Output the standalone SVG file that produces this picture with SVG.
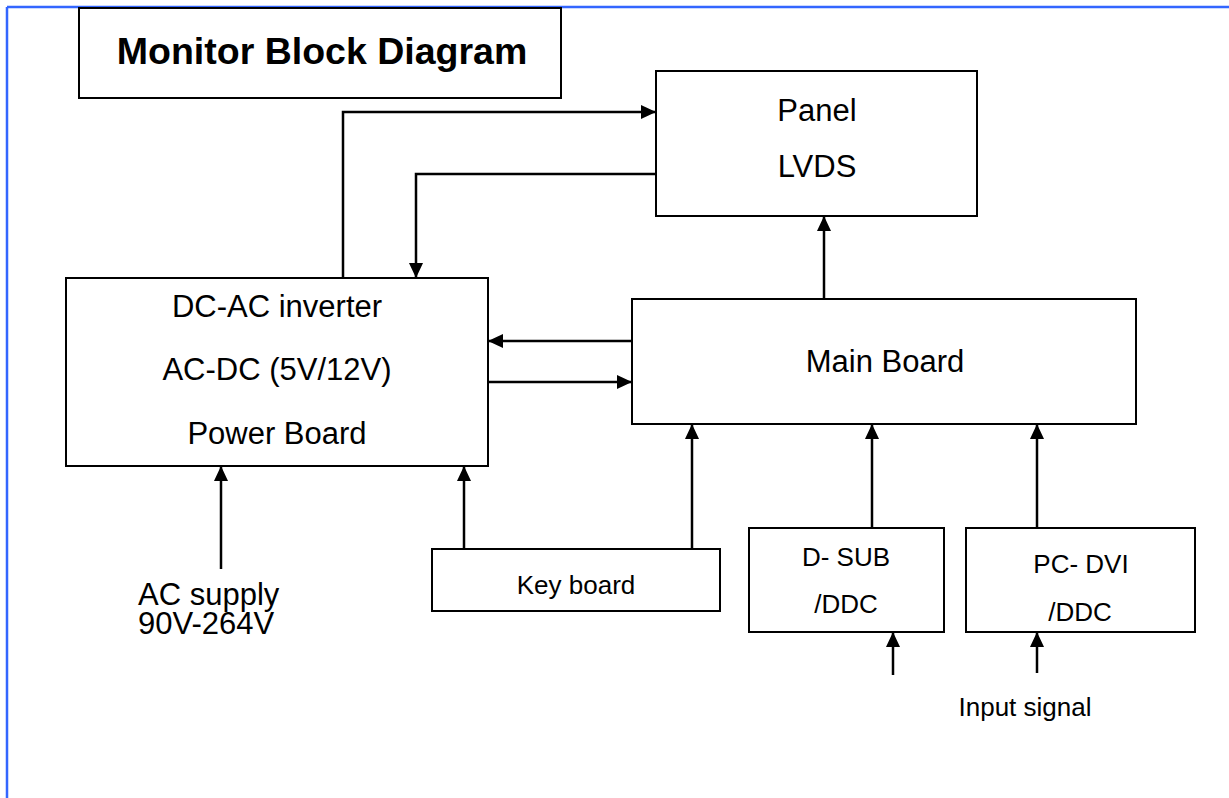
<svg xmlns="http://www.w3.org/2000/svg" width="1229" height="798" viewBox="0 0 1229 798">
<style>
.box{fill:#fff;stroke:#000;stroke-width:2}
.con{fill:none;stroke:#000;stroke-width:2.5}
.big{font-family:"Liberation Sans",Arial,sans-serif;font-size:31px;fill:#000;text-anchor:middle}
.sm{font-family:"Liberation Sans",Arial,sans-serif;font-size:26px;fill:#000;text-anchor:middle}
.title{font-family:"Liberation Sans",Arial,sans-serif;font-size:37.5px;font-weight:bold;fill:#000;text-anchor:middle}
</style>
<defs>
<marker id="arr" markerUnits="userSpaceOnUse" markerWidth="16" markerHeight="14" refX="15" refY="7" orient="auto">
<path d="M0,0 L15,7 L0,14 z" fill="#000"/>
</marker>
</defs>
<rect x="0" y="0" width="1229" height="798" fill="#fff"/>
<g id="frame" fill="none" stroke="#3366FF" stroke-width="2.5">
<line x1="7" y1="7" x2="1229" y2="7"/>
<line x1="7" y1="7" x2="7" y2="798"/>
</g>
<g id="title">
<rect class="box" x="79" y="8" width="482" height="90"/>
<text class="title" x="322" y="64">Monitor Block Diagram</text>
</g>
<g id="panel">
<rect class="box" x="656" y="71" width="321" height="145"/>
<text class="big" x="817" y="121">Panel</text>
<text class="big" x="817" y="177">LVDS</text>
</g>
<g id="power">
<rect class="box" x="66" y="278" width="422" height="188"/>
<text class="big" x="277" y="317">DC-AC inverter</text>
<text class="big" x="277" y="380">AC-DC (5V/12V)</text>
<text class="big" x="277" y="444">Power Board</text>
</g>
<g id="main">
<rect class="box" x="632" y="299" width="504" height="125"/>
<text class="big" x="885" y="372">Main Board</text>
</g>
<g id="keyboard">
<rect class="box" x="432" y="549" width="288" height="62"/>
<text class="sm" x="576" y="594">Key board</text>
</g>
<g id="dsub">
<rect class="box" x="749" y="528" width="195" height="104"/>
<text class="sm" x="846" y="566">D- SUB</text>
<text class="sm" x="846" y="613">/DDC</text>
</g>
<g id="dvi">
<rect class="box" x="966" y="528" width="229" height="104"/>
<text class="sm" x="1081" y="573">PC- DVI</text>
<text class="sm" x="1080" y="621">/DDC</text>
</g>
<g id="ac">
<text class="big" x="138" y="605" style="text-anchor:start">AC supply</text>
<text class="big" x="138" y="634" style="text-anchor:start">90V-264V</text>
</g>
<g id="input">
<text class="sm" x="1025" y="716">Input signal</text>
</g>
<g id="connectors" class="con">
<path class="con" d="M343,278 V112 H656" marker-end="url(#arr)"/>
<path class="con" d="M656,174 H416 V278" marker-end="url(#arr)"/>
<path class="con" d="M824,299 V216" marker-end="url(#arr)"/>
<path class="con" d="M632,341 H488" marker-end="url(#arr)"/>
<path class="con" d="M488,382 H632" marker-end="url(#arr)"/>
<path class="con" d="M464,549 V466" marker-end="url(#arr)"/>
<path class="con" d="M692,549 V424" marker-end="url(#arr)"/>
<path class="con" d="M872,528 V424" marker-end="url(#arr)"/>
<path class="con" d="M1037,528 V424" marker-end="url(#arr)"/>
<path class="con" d="M893,675 V632" marker-end="url(#arr)"/>
<path class="con" d="M1037,673 V632" marker-end="url(#arr)"/>
<path class="con" d="M221,569 V466" marker-end="url(#arr)"/>
</g>
</svg>
